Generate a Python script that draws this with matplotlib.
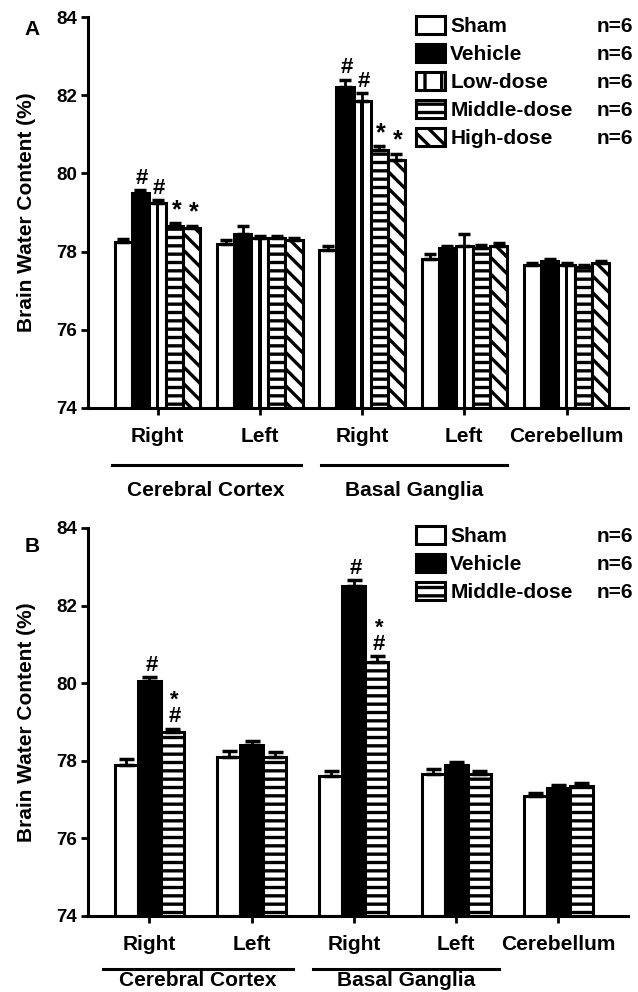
import numpy as np
import matplotlib
matplotlib.use('Agg')
import matplotlib.pyplot as plt
from matplotlib.patches import Patch
import matplotlib.transforms as mtransforms

plt.rcParams['font.family'] = ['Liberation Sans', 'DejaVu Sans']
plt.rcParams['font.weight'] = 'bold'
plt.rcParams['hatch.linewidth'] = 2.4

regions = ['Right', 'Left', 'Right', 'Left', 'Cerebellum']
areas = ['Cerebral Cortex', 'Basal Ganglia']
n_label = 'n=6'

# panel A
groups_a = ['Sham', 'Vehicle', 'Low-dose', 'Middle-dose', 'High-dose']
sham_a = [78.25, 78.2, 78.05, 77.8, 77.65]
sham_a_err = [0.07, 0.1, 0.1, 0.15, 0.05]
vehicle_a = [79.5, 78.45, 82.2, 78.1, 77.75]
vehicle_a_err = [0.07, 0.2, 0.2, 0.05, 0.05]
low_a = [79.25, 78.35, 81.85, 78.15, 77.65]
low_a_err = [0.06, 0.05, 0.2, 0.3, 0.05]
middle_a = [78.65, 78.35, 80.6, 78.1, 77.6]
middle_a_err = [0.07, 0.05, 0.1, 0.06, 0.05]
high_a = [78.6, 78.3, 80.35, 78.15, 77.7]
high_a_err = [0.06, 0.05, 0.15, 0.08, 0.05]
sig_a = [[''] * 5, ['#', '', '#', '', ''], ['#', '', '#', '', ''],
         ['*', '', '*', '', ''], ['*', '', '*', '', '']]

# panel B
groups_b = ['Sham', 'Vehicle', 'Middle-dose']
sham_b = [77.9, 78.1, 77.6, 77.65, 77.1]
sham_b_err = [0.15, 0.15, 0.15, 0.15, 0.08]
vehicle_b = [80.05, 78.4, 82.5, 77.9, 77.3]
vehicle_b_err = [0.1, 0.1, 0.15, 0.08, 0.08]
middle_b = [78.75, 78.1, 80.55, 77.65, 77.35]
middle_b_err = [0.08, 0.12, 0.15, 0.1, 0.08]
sig_b = [[''] * 5, ['#', '', '#', '', ''], ['*\n#', '', '*\n#', '', '']]

styles = {'Sham': dict(color='white', hatch=None),
          'Vehicle': dict(color='black', hatch=None),
          'Low-dose': dict(color='white', hatch='|'),
          'Middle-dose': dict(color='white', hatch='--'),
          'High-dose': dict(color='white', hatch='\\\\')}

W, H = 638, 992
fig = plt.figure(figsize=(W / 100, H / 100), dpi=100)


def panel(ax_rect, groups, vals, errs, sigs, width, xlim, letter, leg_top, below):
    ax = fig.add_axes(ax_rect)
    x = np.arange(len(regions))
    n = len(groups)
    for i, g in enumerate(groups):
        pos = x + (i - (n - 1) / 2) * width
        st = styles[g]
        hatch = st['hatch'] if g != 'Low-dose' else None
        ax.bar(pos, np.array(vals[i]) - 74, width, bottom=74, color=st['color'],
               edgecolor='black', linewidth=2.2, hatch=hatch, zorder=2)
        if g == 'Low-dose':
            ax.bar(pos, np.array(vals[i]) - 74, width * 0.2, bottom=74,
                   color='black', linewidth=0, zorder=3)
        ax.errorbar(pos, vals[i], yerr=[np.zeros(len(x)), errs[i]], fmt='none',
                    ecolor='black', elinewidth=2, capsize=width * 24, capthick=2.5,
                    zorder=4)
        for j, s in enumerate(sigs[i]):
            if s:
                ax.text(pos[j] + width * 0.1, vals[i][j] + errs[i][j] + 0.03, s,
                        ha='center', va='bottom', fontsize=16 if '#' in s else 18,
                        fontweight='bold', linespacing=0.72, zorder=5)
    ax.set_ylim(74, 84)
    ax.set_xlim(*xlim)
    ax.set_yticks([74, 76, 78, 80, 82, 84])
    ax.set_xticks(x)
    ax.set_xticklabels(regions)
    ax.tick_params(axis='y', labelsize=13.5, width=2, length=5, pad=3)
    ax.tick_params(axis='x', labelsize=15, width=2, length=5, pad=below[0])
    for lab in ax.get_xticklabels() + ax.get_yticklabels():
        lab.set_fontweight('bold')
    for s in ['top', 'right']:
        ax.spines[s].set_visible(False)
    for s in ['left', 'bottom']:
        ax.spines[s].set_linewidth(2.2)
    ax.set_ylabel('Brain Water Content (%)', fontsize=15, fontweight='bold')
    ax.yaxis.set_label_coords(-0.097, 0.5)

    h_ax = ax_rect[3] * H
    tr = mtransforms.blended_transform_factory(ax.transData, ax.transAxes)
    spans = [(-0.45, 1.4), (1.6, 3.42)]
    for (a, b), name in zip(spans, areas):
        ax.plot([a, b], [-below[1] / h_ax] * 2, color='black', lw=2.2, transform=tr,
                clip_on=False)
        ax.text((a + b) / 2, -below[2] / h_ax, name, transform=tr, ha='center',
                va='center', fontsize=15, fontweight='bold')
    ax.text(-0.104, letter[1], letter[0], transform=ax.transAxes, fontsize=15,
            fontweight='bold', ha='center', va='center')

    handles = []
    for g in groups:
        st = styles[g]
        handles.append(Patch(facecolor=st['color'], edgecolor='black', linewidth=2.2,
                             hatch=st['hatch']))
    leg = ax.legend(handles, groups, loc='upper left', bbox_to_anchor=(0.607, leg_top),
                    frameon=False, fontsize=15, handlelength=1.4, handleheight=0.95,
                    handletextpad=0.25, labelspacing=0.38, borderpad=0, borderaxespad=0)
    for t in leg.get_texts():
        t.set_fontweight('bold')
    return ax, leg


ax_a, leg_a = panel([88 / W, 1 - 408 / H, 540 / W, 391 / H], groups_a,
                    [sham_a, vehicle_a, low_a, middle_a, high_a],
                    [sham_a_err, vehicle_a_err, low_a_err, middle_a_err, high_a_err],
                    sig_a, 0.167, (-0.68, 4.6), ('A', 0.967), 1.003, (9, 57, 82))
ax_b, leg_b = panel([88 / W, 1 - 916 / H, 540 / W, 388 / H], groups_b,
                    [sham_b, vehicle_b, middle_b],
                    [sham_b_err, vehicle_b_err, middle_b_err],
                    sig_b, 0.225, (-0.6, 4.68), ('B', 0.953), 1.005, (9, 53, 65))

fig.canvas.draw()
for leg in [leg_a, leg_b]:
    for t in leg.get_texts():
        bb = t.get_window_extent()
        fig.text(597 / W, (bb.y0 + bb.y1) / 2 / H, n_label, fontsize=15,
                 fontweight='bold', ha='left', va='center')

fig.savefig('out.png', dpi=100)
